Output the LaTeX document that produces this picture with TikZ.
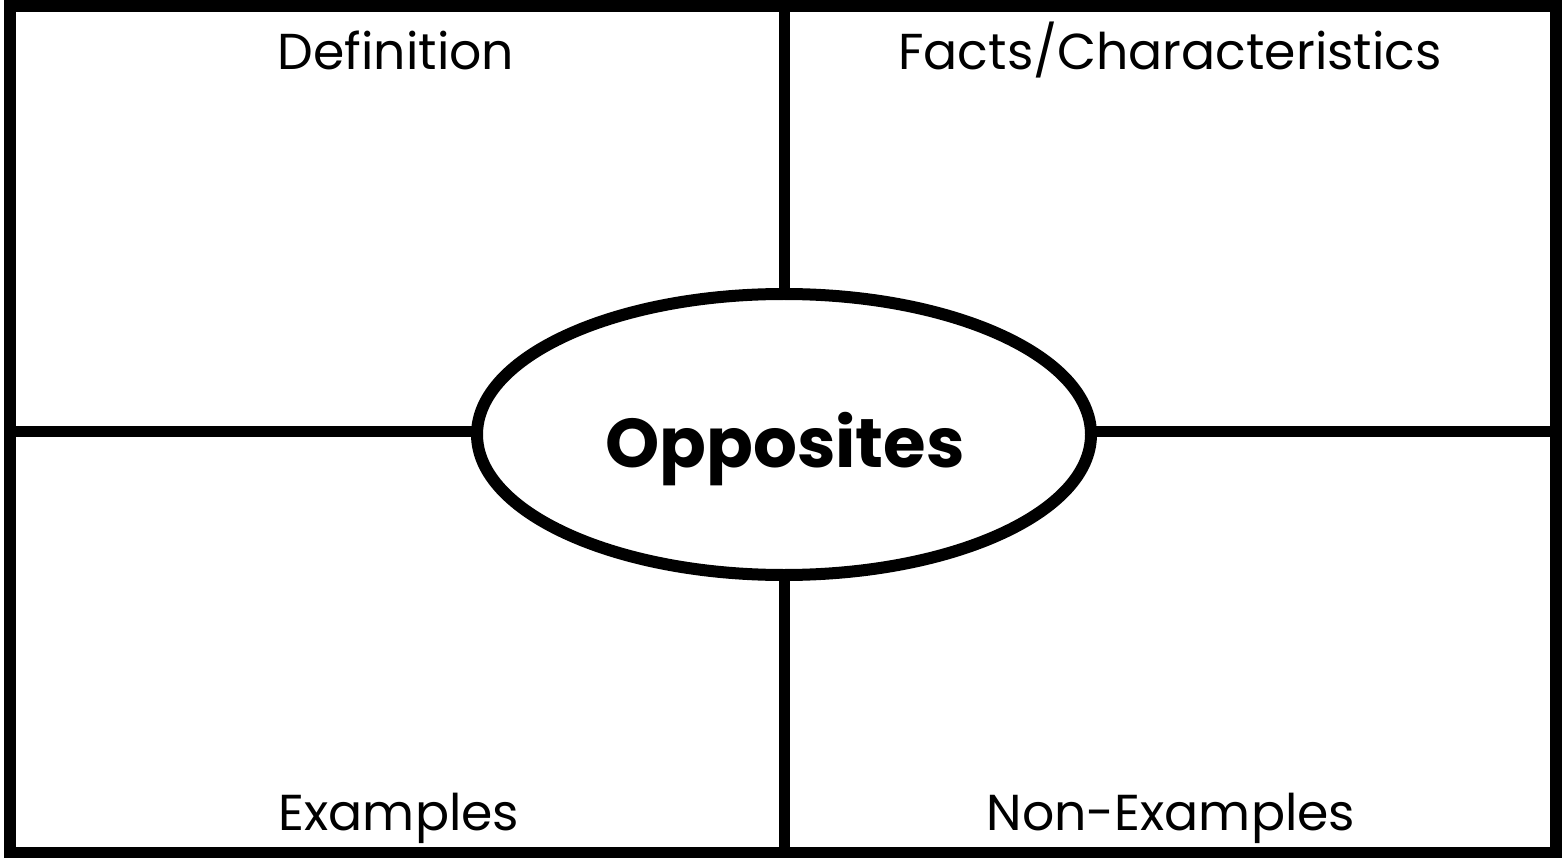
\documentclass[tikz,border=0pt]{standalone}
\usepackage{fontspec}
\setmainfont{Poppins}
\usetikzlibrary{shapes.geometric}
\begin{document}
\begin{tikzpicture}[x=1pt,y=-1pt,
  frame/.style={line width=12pt,line join=miter},
  arm/.style={line width=11pt},
  label/.style={anchor=base,inner sep=0pt,font=\fontsize{50.5}{56}\selectfont},
  title/.style={anchor=base,inner sep=0pt,font=\fontsize{69}{76}\selectfont\bfseries}]
\useasboundingbox (0,0) rectangle (1563,858);
\fill[white] (0,0) rectangle (1563,858);
\draw[frame] (10,6) rectangle (1556,853);
\node[ellipse,draw,line width=12pt,minimum width=614pt,minimum height=281pt,inner sep=0pt,outer sep=0pt] (ov) at (784,434.5) {};
\coordinate (top) at (784,6);
\coordinate (bot) at (784,853);
\coordinate (lft) at (10,431);
\coordinate (rgt) at (1556,431);
\draw[arm] (top) -- (ov.north);
\draw[arm] (bot) -- (ov.south);
\draw[arm] (lft) -- (lft -| ov.west);
\draw[arm] (rgt) -- (rgt -| ov.east);
\node[title] (t) at (785,467) {Opposites};
\node[label] (d) at (396,70) {Definition};
\node[label] (f) at (1170,70) {Facts/Characteristics};
\node[label] (e) at (399,830) {Examples};
\node[label] (n) at (1171,830) {Non-Examples};
\end{tikzpicture}
\end{document}
